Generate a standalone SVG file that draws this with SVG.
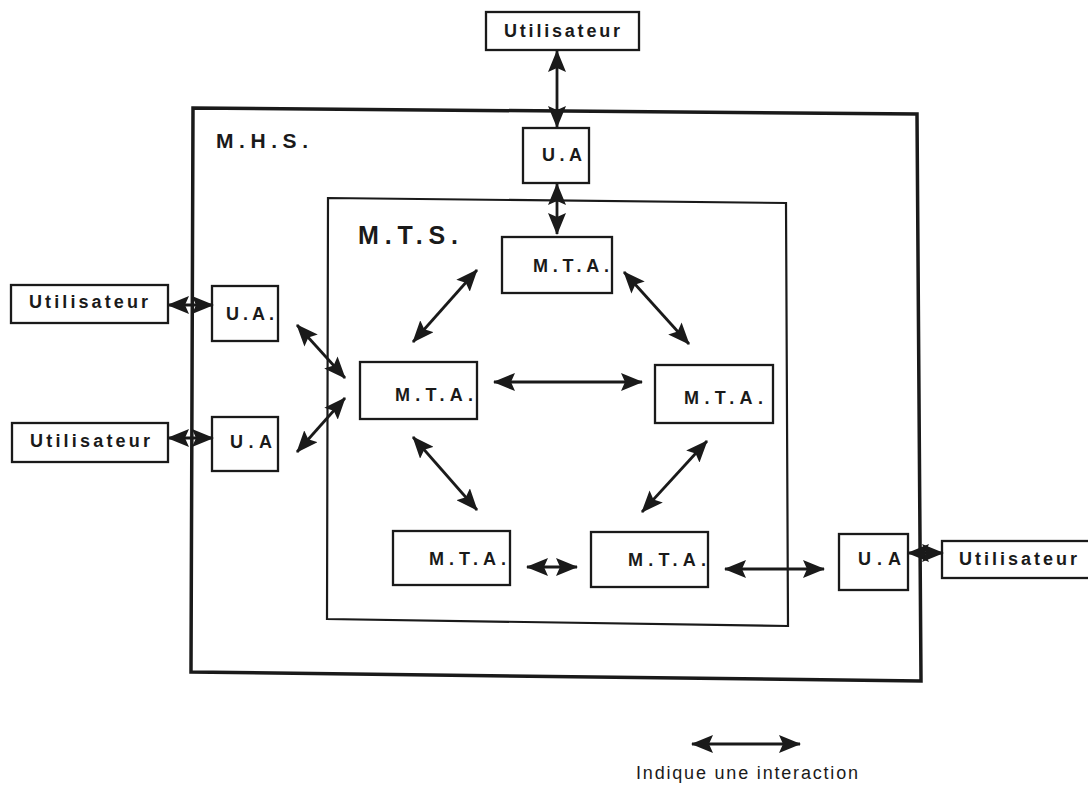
<svg xmlns="http://www.w3.org/2000/svg" width="1088" height="785" viewBox="0 0 1088 785">
<defs>
<style>
.box{fill:#fff;stroke:#1a1a1a;stroke-width:2.3}
.frame{fill:none;stroke:#1a1a1a}
.lbl{font-family:"Liberation Sans",Arial,sans-serif;font-weight:bold;font-size:18px;fill:#1a1a1a}
.title{font-family:"Liberation Sans",Arial,sans-serif;font-weight:bold;fill:#1a1a1a}
.leg{font-family:"Liberation Sans",Arial,sans-serif;font-size:18px;fill:#1a1a1a}
.arr{stroke:#1a1a1a;stroke-width:2.8;fill:none;marker-start:url(#ah);marker-end:url(#ah)}
</style>
<marker id="ah" markerUnits="userSpaceOnUse" markerWidth="22" markerHeight="18" refX="21" refY="9" orient="auto-start-reverse" viewBox="0 0 22 18">
<path d="M0,0 L22,9 L0,18 L4,9 z" fill="#1a1a1a"/>
</marker>
</defs>
<rect width="1088" height="785" fill="#fff"/>

<g id="mhs">
<path class="frame" stroke-width="3.5" d="M193,108 L917,114 L921,681 L191,672 Z"/>
<text class="title" x="216" y="148" font-size="21" textLength="92" lengthAdjust="spacing">M.H.S.</text>
</g>
<g id="mts">
<path class="frame" stroke-width="2.2" d="M328,198 L786,203 L788,626 L327,619 Z"/>
<text class="title" x="358" y="244" font-size="25" textLength="100" lengthAdjust="spacing">M.T.S.</text>
</g>

<g id="user-top"><rect class="box" x="486" y="12" width="153" height="38"/><text class="lbl" x="504" y="37" textLength="116" lengthAdjust="spacing">Utilisateur</text></g>
<g id="user-left1"><rect class="box" x="11" y="285" width="157" height="38"/><text class="lbl" x="29" y="308" textLength="119" lengthAdjust="spacing">Utilisateur</text></g>
<g id="user-left2"><rect class="box" x="12" y="423" width="156" height="39"/><text class="lbl" x="30" y="447" textLength="120" lengthAdjust="spacing">Utilisateur</text></g>
<g id="user-right"><rect class="box" x="942" y="541" width="150" height="37"/><text class="lbl" x="959" y="565" textLength="118" lengthAdjust="spacing">Utilisateur</text></g>

<g id="ua-top"><rect class="box" x="523" y="128" width="66" height="55"/><text class="lbl" x="542" y="161" textLength="40" lengthAdjust="spacing">U.A</text></g>
<g id="ua-left1"><rect class="box" x="212" y="286" width="66" height="55"/><text class="lbl" x="226" y="320" textLength="48" lengthAdjust="spacing">U.A.</text></g>
<g id="ua-left2"><rect class="box" x="212" y="417" width="66" height="54"/><text class="lbl" x="230" y="448" textLength="42" lengthAdjust="spacing">U.A</text></g>
<g id="ua-right"><rect class="box" x="839" y="534" width="69" height="56"/><text class="lbl" x="858" y="565" textLength="43" lengthAdjust="spacing">U.A</text></g>

<g id="mta-top"><rect class="box" x="502" y="237" width="110" height="56"/><text class="lbl" x="533" y="272" textLength="76" lengthAdjust="spacing">M.T.A.</text></g>
<g id="mta-left"><rect class="box" x="360" y="362" width="117" height="57"/><text class="lbl" x="395" y="401" textLength="78" lengthAdjust="spacing">M.T.A.</text></g>
<g id="mta-right"><rect class="box" x="655" y="365" width="118" height="58"/><text class="lbl" x="684" y="404" textLength="79" lengthAdjust="spacing">M.T.A.</text></g>
<g id="mta-bl"><rect class="box" x="393" y="531" width="117" height="54"/><text class="lbl" x="429" y="565" textLength="77" lengthAdjust="spacing">M.T.A.</text></g>
<g id="mta-br"><rect class="box" x="591" y="532" width="117" height="55"/><text class="lbl" x="628" y="566" textLength="78" lengthAdjust="spacing">M.T.A.</text></g>

<g id="connectors">
<line class="arr" x1="557" y1="51" x2="557" y2="127"/>
<line class="arr" x1="557" y1="184" x2="557" y2="234"/>
<line class="arr" x1="168" y1="305" x2="213" y2="305"/>
<line class="arr" x1="168" y1="438" x2="213" y2="438"/>
<line class="arr" x1="908" y1="553" x2="943" y2="553"/>
<line class="arr" x1="297" y1="325" x2="345" y2="378"/>
<line class="arr" x1="345" y1="398" x2="297" y2="452"/>
<line class="arr" x1="477" y1="270" x2="413" y2="342"/>
<line class="arr" x1="624" y1="272" x2="689" y2="344"/>
<line class="arr" x1="494" y1="382" x2="642" y2="382"/>
<line class="arr" x1="413" y1="437" x2="477" y2="510"/>
<line class="arr" x1="707" y1="441" x2="642" y2="512"/>
<line class="arr" x1="527" y1="567" x2="577" y2="567"/>
<line class="arr" x1="725" y1="569" x2="824" y2="569"/>
</g>

<g id="legend">
<line class="arr" x1="692" y1="744" x2="800" y2="744"/>
<text class="leg" x="636" y="779" textLength="222" lengthAdjust="spacing">Indique une interaction</text>
</g>
</svg>
